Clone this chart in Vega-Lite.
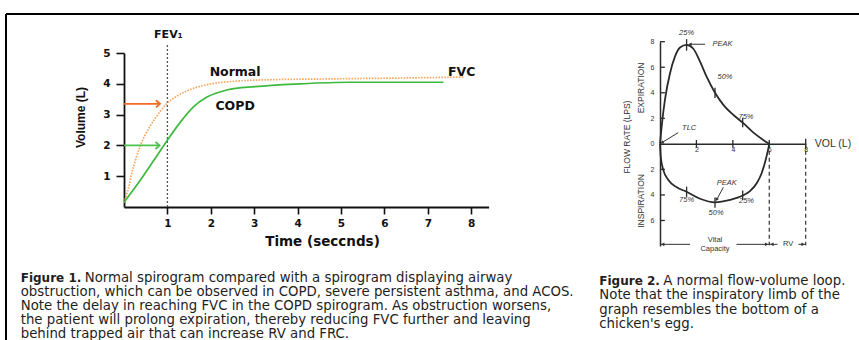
{
  "$schema": "https://vega.github.io/schema/vega-lite/v6.json",
  "width": 853,
  "height": 326,
  "autosize": {"type": "none"},
  "padding": {"left": 6, "top": 14, "right": 0, "bottom": 0},
  "background": "#ffffff",
  "config": {
    "view": {"stroke": "#000000", "strokeWidth": 2, "strokeDash": [853, 1179, 326, 0]},
    "axis": {"grid": false}
  },
  "datasets": {
    "normal": [
      {"t": 0, "vol": 0.15}, {"t": 0.1, "vol": 0.6}, {"t": 0.18, "vol": 1.1}, {"t": 0.27, "vol": 1.55},
      {"t": 0.37, "vol": 1.97}, {"t": 0.48, "vol": 2.32}, {"t": 0.6, "vol": 2.62}, {"t": 0.72, "vol": 2.88},
      {"t": 0.83, "vol": 3.1}, {"t": 0.98, "vol": 3.35}, {"t": 1.21, "vol": 3.59}, {"t": 1.52, "vol": 3.81},
      {"t": 1.9, "vol": 3.97}, {"t": 2.52, "vol": 4.08}, {"t": 3.29, "vol": 4.13}, {"t": 4.82, "vol": 4.16},
      {"t": 6.5, "vol": 4.19}, {"t": 7.82, "vol": 4.22}
    ],
    "copd": [
      {"t": 0, "vol": 0.15}, {"t": 0.37, "vol": 0.86}, {"t": 0.68, "vol": 1.5}, {"t": 0.98, "vol": 2.13},
      {"t": 1.29, "vol": 2.74}, {"t": 1.6, "vol": 3.25}, {"t": 1.9, "vol": 3.56}, {"t": 2.37, "vol": 3.8},
      {"t": 3.02, "vol": 3.91}, {"t": 4.06, "vol": 4.0}, {"t": 5.21, "vol": 4.05}, {"t": 7.36, "vol": 4.05}
    ],
    "fev": [{"t": 1, "vol": 0, "vol2": 5.27}],
    "arrows1": [
      {"series": "Normal", "t": 0, "t2": 0.83, "vol": 3.35},
      {"series": "COPD", "t": 0, "t2": 0.82, "vol": 2.0}
    ],
    "labels1": [
      {"label": "Normal", "t": 2.56, "vol": 4.37},
      {"label": "COPD", "t": 2.56, "vol": 3.29},
      {"label": "FVC", "t": 7.78, "vol": 4.37}
    ],
    "fevlabel": [{"label": "FEV₁", "t": 1.02, "vol": 5.59}],
    "loop": [
      {"limb": "exp", "vol": 0, "flow": 0}, {"limb": "exp", "vol": 0.09, "flow": 1.35},
      {"limb": "exp", "vol": 0.27, "flow": 3.44}, {"limb": "exp", "vol": 0.55, "flow": 5.53},
      {"limb": "exp", "vol": 0.82, "flow": 6.83}, {"limb": "exp", "vol": 1.1, "flow": 7.55},
      {"limb": "exp", "vol": 1.46, "flow": 7.75}, {"limb": "exp", "vol": 1.83, "flow": 7.45},
      {"limb": "exp", "vol": 2.2, "flow": 6.44}, {"limb": "exp", "vol": 2.56, "flow": 5.26},
      {"limb": "exp", "vol": 3.02, "flow": 4.0}, {"limb": "exp", "vol": 3.48, "flow": 3.05},
      {"limb": "exp", "vol": 4.03, "flow": 2.26}, {"limb": "exp", "vol": 4.54, "flow": 1.66},
      {"limb": "exp", "vol": 5.13, "flow": 0.88}, {"limb": "exp", "vol": 5.67, "flow": 0.31},
      {"limb": "exp", "vol": 6.0, "flow": 0},
      {"limb": "insp", "vol": 0, "flow": 0}, {"limb": "insp", "vol": 0.04, "flow": -1.0},
      {"limb": "insp", "vol": 0.18, "flow": -2.04}, {"limb": "insp", "vol": 0.46, "flow": -2.83},
      {"limb": "insp", "vol": 0.92, "flow": -3.4}, {"limb": "insp", "vol": 1.46, "flow": -3.75},
      {"limb": "insp", "vol": 2.2, "flow": -4.3}, {"limb": "insp", "vol": 3.02, "flow": -4.58},
      {"limb": "insp", "vol": 3.84, "flow": -4.39}, {"limb": "insp", "vol": 4.54, "flow": -4.05},
      {"limb": "insp", "vol": 4.94, "flow": -3.7}, {"limb": "insp", "vol": 5.31, "flow": -3.09},
      {"limb": "insp", "vol": 5.58, "flow": -2.3}, {"limb": "insp", "vol": 5.8, "flow": -1.26},
      {"limb": "insp", "vol": 5.95, "flow": -0.35}, {"limb": "insp", "vol": 6.0, "flow": 0}
    ],
    "ticks2": [
      {"vol": 0, "vol2": 0.27, "flow": 8, "flow2": 8},
      {"vol": 0, "vol2": 0.27, "flow": 6, "flow2": 6},
      {"vol": 0, "vol2": 0.27, "flow": 4, "flow2": 4},
      {"vol": 0, "vol2": 0.27, "flow": 2, "flow2": 2},
      {"vol": 0, "vol2": 0.27, "flow": -2, "flow2": -2},
      {"vol": 0, "vol2": 0.27, "flow": -4, "flow2": -4},
      {"vol": 0, "vol2": 0.27, "flow": -6, "flow2": -6},
      {"vol": 2, "vol2": 2, "flow": -0.3, "flow2": 0.3},
      {"vol": 4, "vol2": 4, "flow": -0.3, "flow2": 0.3},
      {"vol": 6, "vol2": 6, "flow": -0.3, "flow2": 0.3},
      {"vol": 8, "vol2": 8, "flow": -0.4, "flow2": 0.4},
      {"vol": 1.46, "vol2": 1.46, "flow": 7.3, "flow2": 8.2},
      {"vol": 3.02, "vol2": 3.02, "flow": 3.6, "flow2": 4.4},
      {"vol": 4.54, "vol2": 4.54, "flow": 1.3, "flow2": 2.05},
      {"vol": 1.46, "vol2": 1.46, "flow": -3.35, "flow2": -4.15},
      {"vol": 3.02, "vol2": 3.02, "flow": -4.2, "flow2": -5.0},
      {"vol": 4.54, "vol2": 4.54, "flow": -3.65, "flow2": -4.4}
    ],
    "dash2": [
      {"vol": 6, "flow": 0, "flow2": -7.95},
      {"vol": 8, "flow": 0, "flow2": -7.95}
    ],
    "bracket": [
      {"vol": 0, "vol2": 1.65, "flow": -7.87},
      {"vol": 4.2, "vol2": 6, "flow": -7.87},
      {"vol": 6, "vol2": 6.45, "flow": -7.87},
      {"vol": 7.6, "vol2": 8, "flow": -7.87}
    ],
    "brackheads": [
      {"vol": 0.15, "flow": -7.87, "dir": "L"},
      {"vol": 5.85, "flow": -7.87, "dir": "R"},
      {"vol": 6.15, "flow": -7.87, "dir": "L"},
      {"vol": 7.85, "flow": -7.87, "dir": "R"}
    ],
    "arrows2": [
      {"name": "peak1", "vol": 2.47, "vol2": 1.62, "flow": 7.8, "flow2": 7.8},
      {"name": "tlc", "vol": 1.0, "vol2": 0.08, "flow": 0.88, "flow2": 0.07},
      {"name": "peak2", "vol": 3.48, "vol2": 3.1, "flow": -3.4, "flow2": -4.4}
    ],
    "heads2": [
      {"name": "peak1", "vol": 1.68, "flow": 7.8},
      {"name": "tlc", "vol": 0.14, "flow": 0.11},
      {"name": "peak2", "vol": 3.12, "flow": -4.33}
    ],
    "labels2": [
      {"kind": "pct", "label": "25%", "vol": 1.46, "flow": 8.7},
      {"kind": "pct", "label": "50%", "vol": 3.57, "flow": 5.2},
      {"kind": "pct", "label": "75%", "vol": 4.72, "flow": 2.13},
      {"kind": "pct", "label": "75%", "vol": 1.46, "flow": -4.4},
      {"kind": "pct", "label": "50%", "vol": 3.08, "flow": -5.44},
      {"kind": "pct", "label": "25%", "vol": 4.75, "flow": -4.45},
      {"kind": "word", "label": "PEAK", "vol": 3.43, "flow": 7.8},
      {"kind": "word", "label": "TLC", "vol": 1.6, "flow": 1.22},
      {"kind": "word", "label": "PEAK", "vol": 3.66, "flow": -3.04},
      {"kind": "plain", "label": "Vital", "vol": 3.02, "flow": -7.53},
      {"kind": "plain", "label": "Capacity", "vol": 3.02, "flow": -8.25},
      {"kind": "plain", "label": "RV", "vol": 7.03, "flow": -7.87},
      {"kind": "rot", "label": "FLOW RATE (LPS)", "vol": -1.83, "flow": 0.53},
      {"kind": "rot", "label": "EXPIRATION", "vol": -1.04, "flow": 4.38},
      {"kind": "rot", "label": "INSPIRATION", "vol": -1.04, "flow": -4.47},
      {"kind": "axis", "label": "VOL (L)", "vol": 8.5, "flow": 0}
    ],
    "captions": [
      {"fig": 1, "line": 1, "part": "label", "text": "Figure 1."},
      {"fig": 1, "line": 1, "part": "first", "text": "Normal spirogram compared with a spirogram displaying airway"},
      {"fig": 1, "line": 2, "part": "body", "text": "obstruction, which can be observed in COPD, severe persistent asthma, and ACOS."},
      {"fig": 1, "line": 3, "part": "body", "text": "Note the delay in reaching FVC in the COPD spirogram. As obstruction worsens,"},
      {"fig": 1, "line": 4, "part": "body", "text": "the patient will prolong expiration, thereby reducing FVC further and leaving"},
      {"fig": 1, "line": 5, "part": "body", "text": "behind trapped air that can increase RV and FRC."},
      {"fig": 2, "line": 1, "part": "label", "text": "Figure 2."},
      {"fig": 2, "line": 1, "part": "first", "text": "A normal flow-volume loop."},
      {"fig": 2, "line": 2, "part": "body", "text": "Note that the inspiratory limb of the"},
      {"fig": 2, "line": 3, "part": "body", "text": "graph resembles the bottom of a"},
      {"fig": 2, "line": 4, "part": "body", "text": "chicken's egg."}
    ]
  },
  "layer": [
    {
      "encoding": {
        "x": {
          "field": "t", "type": "quantitative",
          "scale": {"domain": [0, 8.4], "range": [118, 482.6], "nice": false, "zero": false},
          "axis": {
            "orient": "bottom", "offset": -133, "values": [1, 2, 3, 4, 5, 6, 7, 8], "format": "d",
            "title": "Time (seccnds)", "titleFont": "DejaVu Sans", "titleFontWeight": "bold", "titleFontSize": 13.5,
            "titleColor": "#111111", "titleX": 316, "titleY": 34, "titleBaseline": "middle", "titleAlign": "center",
            "labelFont": "DejaVu Sans", "labelFontWeight": "bold", "labelFontSize": 10.5, "labelColor": "#111111",
            "labelPadding": 4, "labelFlush": false, "labelOverlap": false,
            "tickSize": 7, "tickWidth": 1.6, "tickColor": "#111111", "domainColor": "#111111", "domainWidth": 1.8, "grid": false
          }
        },
        "y": {
          "field": "vol", "type": "quantitative",
          "scale": {"domain": [0, 5], "range": [193, 39], "nice": false, "zero": false},
          "axis": {
            "orient": "left", "offset": -118, "values": [1, 2, 3, 4, 5], "format": "d",
            "title": "Volume (L)", "titleFont": "Liberation Sans", "titleFontWeight": "bold", "titleFontSize": 12,
            "titleColor": "#111111", "titleAngle": 270, "titleX": -44, "titleY": 103, "titleBaseline": "middle", "titleAlign": "center",
            "labelFont": "DejaVu Sans", "labelFontWeight": "bold", "labelFontSize": 10.5, "labelColor": "#111111",
            "labelPadding": 6, "labelFlush": false, "labelOverlap": false,
            "tickSize": 8, "tickWidth": 1.6, "tickColor": "#111111", "domainColor": "#111111", "domainWidth": 1.8, "grid": false
          }
        }
      },
      "layer": [
        {
          "data": {"name": "fev"},
          "mark": {"type": "rule", "color": "#555555", "strokeWidth": 1.3, "strokeDash": [2, 2]},
          "encoding": {"y2": {"field": "vol2"}}
        },
        {
          "data": {"name": "normal"},
          "mark": {"type": "line", "color": "#f8a85e", "strokeWidth": 1.7, "strokeDash": [1.6, 1.3], "interpolate": "monotone"}
        },
        {
          "data": {"name": "copd"},
          "mark": {"type": "line", "color": "#3dba3d", "strokeWidth": 1.7, "interpolate": "monotone"}
        },
        {
          "data": {"name": "arrows1"},
          "mark": {"type": "rule", "strokeWidth": 1.8},
          "encoding": {
            "x2": {"field": "t2"},
            "color": {"field": "series", "type": "nominal", "scale": {"domain": ["Normal", "COPD"], "range": ["#f36b21", "#4cc24c"]}, "legend": null}
          }
        },
        {
          "data": {"name": "arrows1"},
          "mark": {"type": "point", "shape": "M-1,-0.85L0,0L-1,0.85", "filled": false, "size": 70, "strokeWidth": 1.8, "opacity": 1},
          "encoding": {
            "x": {"field": "t2", "type": "quantitative", "scale": {"domain": [0, 8.4], "range": [118, 482.6], "nice": false, "zero": false}},
            "color": {"field": "series", "type": "nominal", "scale": {"domain": ["Normal", "COPD"], "range": ["#f36b21", "#4cc24c"]}, "legend": null}
          }
        },
        {
          "data": {"name": "labels1"},
          "mark": {"type": "text", "font": "DejaVu Sans", "fontWeight": "bold", "fontSize": 12.5, "color": "#111111", "align": "center", "baseline": "middle"},
          "encoding": {"text": {"field": "label"}}
        },
        {
          "data": {"name": "fevlabel"},
          "mark": {"type": "text", "font": "DejaVu Sans", "fontWeight": "bold", "fontSize": 11, "color": "#111111", "align": "center", "baseline": "middle"},
          "encoding": {"text": {"field": "label"}}
        }
      ]
    },
    {
      "encoding": {
        "x": {
          "field": "vol", "type": "quantitative",
          "scale": {"domain": [0, 8], "range": [654, 799.7], "nice": false, "zero": false},
          "axis": {
            "orient": "bottom", "offset": -196.15, "values": [2, 4, 6, 8], "ticks": false, "title": null,
            "labelFont": "Liberation Sans", "labelFontSize": 7, "labelColor": "#333333", "labelPadding": 2,
            "labelFlush": false, "labelOverlap": false, "domainColor": "#2a2a2a", "domainWidth": 1.5, "grid": false
          }
        },
        "y": {
          "field": "flow", "type": "quantitative",
          "scale": {"domain": [-8, 8], "range": [232, 27.7], "nice": false, "zero": false},
          "axis": {
            "orient": "left", "offset": -654, "values": [-6, -4, -2, 0, 2, 4, 6, 8], "labelExpr": "abs(datum.value)",
            "ticks": false, "title": null,
            "labelFont": "Liberation Sans", "labelFontSize": 7, "labelColor": "#333333", "labelPadding": 6,
            "labelFlush": false, "labelOverlap": false, "domainColor": "#2a2a2a", "domainWidth": 1.5, "grid": false
          }
        }
      },
      "layer": [
        {
          "data": {"name": "loop"},
          "mark": {"type": "line", "color": "#2a2a2a", "strokeWidth": 1.8, "interpolate": "monotone"},
          "encoding": {"detail": {"field": "limb"}}
        },
        {
          "data": {"name": "ticks2"},
          "mark": {"type": "rule", "color": "#2a2a2a", "strokeWidth": 1.3},
          "encoding": {"x2": {"field": "vol2"}, "y2": {"field": "flow2"}}
        },
        {
          "data": {"name": "dash2"},
          "mark": {"type": "rule", "color": "#333333", "strokeWidth": 1.2, "strokeDash": [4, 3]},
          "encoding": {"y2": {"field": "flow2"}}
        },
        {
          "data": {"name": "bracket"},
          "mark": {"type": "rule", "color": "#333333", "strokeWidth": 1},
          "encoding": {"x2": {"field": "vol2"}}
        },
        {
          "data": {"name": "brackheads"},
          "mark": {"type": "point", "filled": true, "size": 14, "color": "#333333", "opacity": 1},
          "encoding": {
            "shape": {"field": "dir", "type": "nominal", "scale": {"domain": ["L", "R"], "range": ["triangle-left", "triangle-right"]}, "legend": null}
          }
        },
        {
          "data": {"name": "arrows2"},
          "mark": {"type": "rule", "color": "#333333", "strokeWidth": 1},
          "encoding": {"x2": {"field": "vol2"}, "y2": {"field": "flow2"}}
        },
        {
          "data": {"name": "heads2"},
          "transform": [{"filter": "datum.name == 'peak1'"}],
          "mark": {"type": "point", "shape": "triangle", "angle": 270, "filled": true, "size": 14, "color": "#333333", "opacity": 1}
        },
        {
          "data": {"name": "heads2"},
          "transform": [{"filter": "datum.name == 'tlc'"}],
          "mark": {"type": "point", "shape": "triangle", "angle": 238, "filled": true, "size": 14, "color": "#333333", "opacity": 1}
        },
        {
          "data": {"name": "heads2"},
          "transform": [{"filter": "datum.name == 'peak2'"}],
          "mark": {"type": "point", "shape": "triangle", "angle": 207, "filled": true, "size": 14, "color": "#333333", "opacity": 1}
        },
        {
          "data": {"name": "labels2"},
          "transform": [{"filter": "datum.kind == 'pct'"}],
          "mark": {"type": "text", "font": "Liberation Sans", "fontStyle": "italic", "fontSize": 7.5, "color": "#333333", "align": "center", "baseline": "middle"},
          "encoding": {"text": {"field": "label"}}
        },
        {
          "data": {"name": "labels2"},
          "transform": [{"filter": "datum.kind == 'word'"}],
          "mark": {"type": "text", "font": "Liberation Sans", "fontStyle": "italic", "fontSize": 7.5, "letterSpacing": 1.5, "color": "#333333", "align": "center", "baseline": "middle"},
          "encoding": {"text": {"field": "label"}}
        },
        {
          "data": {"name": "labels2"},
          "transform": [{"filter": "datum.kind == 'plain'"}],
          "mark": {"type": "text", "font": "Liberation Sans", "fontSize": 7.5, "letterSpacing": 0.5, "color": "#333333", "align": "center", "baseline": "middle"},
          "encoding": {"text": {"field": "label"}}
        },
        {
          "data": {"name": "labels2"},
          "transform": [{"filter": "datum.kind == 'rot'"}],
          "mark": {"type": "text", "font": "Liberation Sans", "fontSize": 8.5, "angle": 270, "color": "#333333", "align": "center", "baseline": "middle"},
          "encoding": {"text": {"field": "label"}}
        },
        {
          "data": {"name": "labels2"},
          "transform": [{"filter": "datum.kind == 'axis'"}],
          "mark": {"type": "text", "font": "Liberation Sans", "fontSize": 10.5, "letterSpacing": 2, "color": "#333333", "align": "left", "baseline": "middle"},
          "encoding": {"text": {"field": "label"}}
        }
      ]
    },
    {
      "data": {"name": "captions"},
      "encoding": {
        "x": {"field": "fig", "type": "quantitative", "scale": {"domain": [1, 2], "range": [14.7, 593.3], "nice": false, "zero": false}, "axis": null},
        "y": {"field": "line", "type": "quantitative", "scale": {"domain": [1, 5], "range": [263.7, 320.3], "nice": false, "zero": false}, "axis": null},
        "text": {"field": "text"}
      },
      "layer": [
        {
          "transform": [{"filter": "datum.fig == 1 && datum.part == 'label'"}],
          "mark": {"type": "text", "font": "DejaVu Sans", "fontWeight": "bold", "fontSize": 12, "color": "#1e1e1e", "align": "left", "baseline": "middle"}
        },
        {
          "transform": [{"filter": "datum.fig == 1 && datum.part == 'first'"}],
          "mark": {"type": "text", "font": "DejaVu Sans", "fontSize": 13.3, "color": "#1e1e1e", "align": "left", "baseline": "middle", "dx": 64}
        },
        {
          "transform": [{"filter": "datum.fig == 1 && datum.part == 'body'"}],
          "mark": {"type": "text", "font": "DejaVu Sans", "fontSize": 13.3, "color": "#1e1e1e", "align": "left", "baseline": "middle"}
        },
        {
          "transform": [{"filter": "datum.fig == 2 && datum.part == 'label'"}],
          "mark": {"type": "text", "font": "DejaVu Sans", "fontWeight": "bold", "fontSize": 12, "color": "#1e1e1e", "align": "left", "baseline": "middle", "dy": 3.5}
        },
        {
          "transform": [{"filter": "datum.fig == 2 && datum.part == 'first'"}],
          "mark": {"type": "text", "font": "DejaVu Sans", "fontSize": 13.3, "color": "#1e1e1e", "align": "left", "baseline": "middle", "dx": 64, "dy": 3.5}
        },
        {
          "transform": [{"filter": "datum.fig == 2 && datum.part == 'body'"}],
          "mark": {"type": "text", "font": "DejaVu Sans", "fontSize": 13.3, "color": "#1e1e1e", "align": "left", "baseline": "middle", "dy": 3.5}
        }
      ]
    }
  ],
  "resolve": {
    "scale": {"x": "independent", "y": "independent"},
    "axis": {"x": "independent", "y": "independent"}
  }
}
